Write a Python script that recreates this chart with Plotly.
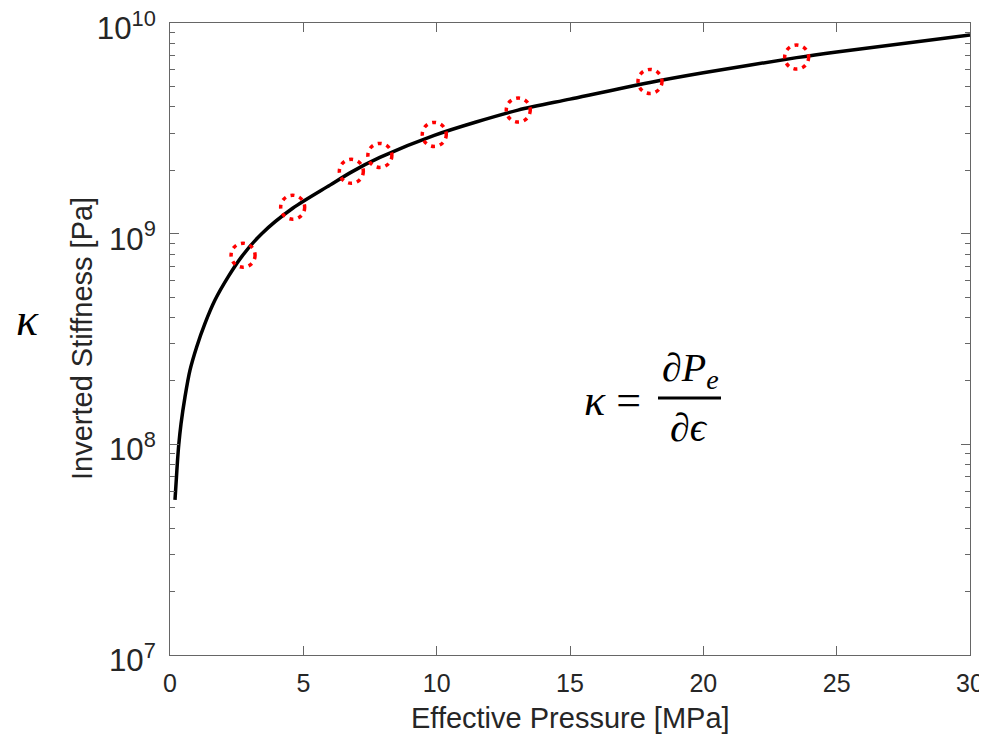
import plotly.graph_objects as go

# Fitted curve
curve_x = [0.1875, 0.236, 0.28, 0.33, 0.4125, 0.5625, 0.75, 1.0, 1.3125, 1.6875,
           2.186, 2.689, 3.439, 4.6, 6.0, 6.8, 7.87, 9.91, 13.05, 15.0, 18.0,
           20.0, 23.5, 25.0, 30.0]
curve_y = [5.45e7, 6.8e7, 8.3e7, 1.0e8, 1.25e8, 1.68e8, 2.25e8, 2.9e8, 3.75e8,
           4.84e8, 6.25e8, 7.78e8, 1.0e9, 1.32e9, 1.7e9, 1.96e9, 2.3e9, 2.93e9,
           3.86e9, 4.35e9, 5.22e9, 5.8e9, 6.85e9, 7.29e9, 8.77e9]

# Measured points (red dotted circles)
pts_x = [2.74, 4.60, 6.80, 7.87, 9.91, 13.06, 18.0, 23.5]
pts_y = [7.9e8, 1.335e9, 1.976e9, 2.353e9, 2.96e9, 3.86e9, 5.28e9, 6.89e9]

x_ticks = [0, 5, 10, 15, 20, 25, 30]

R_PX = 12                 # circle radius in pixels (style)
DECADE_PX = 632 / 3       # pixels per decade on the y axis
r_fac = 10 ** (R_PX / DECADE_PX)

fig = go.Figure()
fig.add_trace(go.Scatter(x=curve_x, y=curve_y, mode="lines",
                         line=dict(color="black", width=3.5, shape="spline", smoothing=0.8),
                         showlegend=False, hoverinfo="skip"))

for px, py in zip(pts_x, pts_y):
    fig.add_shape(type="circle", xref="x", yref="y",
                  xsizemode="pixel", xanchor=px, x0=-R_PX, x1=R_PX,
                  y0=py / r_fac, y1=py * r_fac,
                  line=dict(color="red", width=3.5, dash="4px,5px"))

axis_col = "#666666"
sans = "Liberation Sans, Arial, sans-serif"
tick_font = dict(family=sans, size=25, color="#262626")
title_font = dict(family=sans, size=29, color="#262626")

fig.update_xaxes(range=[0, 30], tickvals=x_ticks, ticks="inside", ticklen=9,
                 tickcolor=axis_col, showline=True, linecolor=axis_col, linewidth=1.3,
                 mirror="ticks", showgrid=False, zeroline=False, automargin=False,
                 tickfont=tick_font, ticklabelstandoff=6, ticklabeloverflow="allow")
fig.update_yaxes(type="log", range=[7, 10], dtick=1, exponentformat="power",
                 ticks="inside", ticklen=9, tickcolor=axis_col,
                 minor=dict(ticks="inside", ticklen=5, tickcolor=axis_col, showgrid=False),
                 showline=True, linecolor=axis_col, linewidth=1.3,
                 mirror="ticks", showgrid=False, zeroline=False, automargin=False,
                 tickfont=tick_font, ticklabelstandoff=8, ticklabelshift=5,
                 ticklabeloverflow="allow")

# plot area position on the page: x 170..970, y 23..655 (page body adds 8px offset)
def px_x(p):
    return (p - 170) / 800

def px_y(p):
    return (655 - p) / 632

fig.add_annotation(text="Inverted Stiffness [Pa]", xref="paper", yref="paper",
                   x=px_x(82), y=px_y(339), textangle=-90, showarrow=False,
                   xanchor="center", yanchor="middle", font=title_font)
fig.add_annotation(text="Effective Pressure [MPa]", xref="paper", yref="paper",
                   x=px_x(570), y=px_y(718), showarrow=False,
                   xanchor="center", yanchor="middle", font=title_font)

serif = "Liberation Serif, DejaVu Serif, serif"
ann = [
    dict(text="<i>κ</i>", x=27, y=320, size=46),
    dict(text="<i>κ</i> =", x=612, y=400, size=44),
    dict(text="∂<i>P</i><sub><i>e</i></sub>", x=690, y=370, size=40),
    dict(text="∂<i>ϵ</i>", x=689, y=427, size=40),
]
for a in ann:
    fig.add_annotation(text=a["text"], xref="paper", yref="paper",
                       x=px_x(a["x"]), y=px_y(a["y"]),
                       xanchor="center", yanchor="middle", showarrow=False,
                       font=dict(family=serif, size=a["size"], color="black"))
fig.add_shape(type="line", xref="paper", yref="paper",
              x0=px_x(658), x1=px_x(721), y0=px_y(398), y1=px_y(398),
              line=dict(color="black", width=3))

fig.update_layout(width=979, height=731, plot_bgcolor="white", paper_bgcolor="white",
                  margin=dict(l=162, r=17, t=15, b=84))
fig.write_html("out.html")
